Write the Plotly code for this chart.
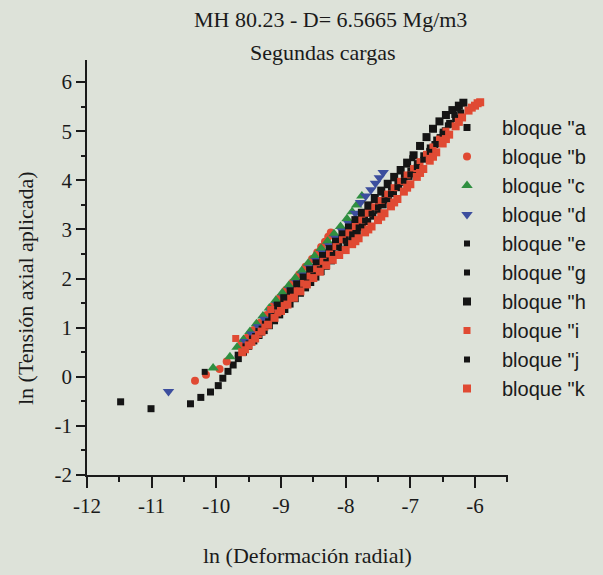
import plotly.graph_objects as go

# ---------------- data ----------------
x_a = [-11.48, -11.01, -10.40, -10.24, -10.09, -9.97, -9.90, -9.82, -9.74, -9.66, -9.58, -9.50, -9.42, -9.34, -9.26, -9.18, -9.10, -9.02, -8.94, -8.86, -8.78, -8.70, -8.62, -8.54, -8.46, -8.38, -8.30, -8.22, -8.14, -8.06, -7.98, -7.90, -7.82, -7.74, -7.66, -7.58, -7.50, -7.42, -7.34, -7.26, -7.18, -7.10, -7.02, -6.94, -6.86, -6.78, -6.70, -6.62, -6.54, -6.46, -6.38, -6.30, -6.22]
y_a = [-0.51, -0.65, -0.55, -0.42, -0.31, -0.18, -0.03, 0.11, 0.24, 0.37, 0.50, 0.62, 0.73, 0.84, 0.94, 1.04, 1.14, 1.26, 1.37, 1.48, 1.59, 1.70, 1.81, 1.92, 2.03, 2.14, 2.25, 2.36, 2.48, 2.59, 2.70, 2.82, 2.93, 3.05, 3.16, 3.27, 3.39, 3.50, 3.62, 3.73, 3.85, 3.96, 4.08, 4.20, 4.33, 4.46, 4.59, 4.73, 4.87, 5.01, 5.14, 5.26, 5.37]

x_b = [-10.33, -10.16, -9.95, -9.84, -9.62, -9.52, -9.42, -9.32, -9.22, -9.12, -9.02, -8.92, -8.82, -8.72, -8.62, -8.52, -8.44, -8.38, -8.32, -8.27, -8.23]
y_b = [-0.08, 0.04, 0.16, 0.31, 0.65, 0.80, 0.95, 1.10, 1.26, 1.44, 1.61, 1.77, 1.92, 2.08, 2.24, 2.40, 2.53, 2.64, 2.75, 2.85, 2.94]

x_c = [-10.05, -9.79, -9.68, -9.58, -9.48, -9.38, -9.28, -9.18, -9.08, -8.98, -8.88, -8.78, -8.68, -8.58, -8.48, -8.38, -8.28, -8.18, -8.08, -7.98, -7.90, -7.83, -7.75]
y_c = [0.18, 0.41, 0.60, 0.76, 0.92, 1.08, 1.24, 1.40, 1.56, 1.71, 1.86, 2.01, 2.16, 2.31, 2.46, 2.61, 2.76, 2.91, 3.06, 3.22, 3.36, 3.50, 3.68]

x_d = [-10.74, -9.55, -9.45, -9.35, -9.25, -9.15, -9.05, -8.95, -8.85, -8.75, -8.65, -8.55, -8.45, -8.35, -8.25, -8.15, -8.05, -7.95, -7.85, -7.77, -7.69, -7.61, -7.54, -7.48, -7.42]
y_d = [-0.30, 0.72, 0.87, 1.02, 1.17, 1.32, 1.47, 1.62, 1.77, 1.92, 2.07, 2.22, 2.37, 2.52, 2.67, 2.82, 2.97, 3.12, 3.33, 3.55, 3.68, 3.81, 3.94, 4.05, 4.16]

x_e = [-10.18, -9.67, -9.55, -9.45, -9.35, -9.25, -9.15, -9.05, -8.95, -8.85, -8.75, -8.65, -8.55, -8.45, -8.35, -8.25, -8.15, -8.05, -7.95, -7.85, -7.75, -7.65, -7.55, -7.45, -7.35, -7.25, -7.15, -7.05, -6.97]
y_e = [0.10, 0.45, 0.62, 0.78, 0.93, 1.08, 1.23, 1.38, 1.53, 1.67, 1.82, 1.96, 2.11, 2.25, 2.40, 2.55, 2.70, 2.85, 3.00, 3.15, 3.30, 3.45, 3.60, 3.75, 3.90, 4.04, 4.18, 4.32, 4.45]

x_g = [-9.50, -9.40, -9.30, -9.20, -9.10, -9.00, -8.90, -8.80, -8.70, -8.60, -8.50, -8.40, -8.30, -8.20, -8.10, -8.00, -7.90, -7.80, -7.70, -7.60, -7.50, -7.40, -7.30, -7.20, -7.10, -7.00, -6.90, -6.80, -6.70, -6.60, -6.50, -6.42]
y_g = [0.68, 0.83, 0.98, 1.13, 1.28, 1.42, 1.56, 1.71, 1.85, 1.99, 2.13, 2.27, 2.42, 2.56, 2.71, 2.85, 2.98, 3.12, 3.26, 3.40, 3.54, 3.67, 3.81, 3.94, 4.07, 4.20, 4.35, 4.51, 4.67, 4.83, 4.99, 5.12]

x_h = [-9.05, -8.95, -8.85, -8.75, -8.65, -8.55, -8.45, -8.35, -8.25, -8.15, -8.05, -7.95, -7.85, -7.75, -7.65, -7.55, -7.45, -7.35, -7.25, -7.15, -7.05, -6.95, -6.85, -6.75, -6.65, -6.55, -6.45, -6.35, -6.25, -6.18]
y_h = [1.45, 1.60, 1.74, 1.88, 2.02, 2.17, 2.31, 2.46, 2.60, 2.75, 2.90, 3.04, 3.19, 3.34, 3.49, 3.64, 3.79, 3.93, 4.07, 4.21, 4.36, 4.51, 4.70, 4.88, 5.05, 5.20, 5.33, 5.43, 5.52, 5.58]

x_i = [-9.70, -9.16, -9.55, -9.45, -9.35, -9.25, -9.05, -8.95, -8.85, -8.75, -8.65, -8.55, -8.45, -8.35, -8.25, -8.15, -8.05, -7.95, -7.85, -7.75, -7.65, -7.55, -7.45, -7.35, -7.25, -7.15, -7.05, -6.95, -6.85, -6.75, -6.65, -6.55, -6.45]
y_i = [0.78, 1.37, 0.55, 0.70, 0.86, 1.01, 1.30, 1.45, 1.60, 1.75, 1.90, 2.05, 2.20, 2.35, 2.50, 2.65, 2.79, 2.93, 3.06, 3.19, 3.33, 3.46, 3.59, 3.72, 3.85, 3.98, 4.11, 4.24, 4.38, 4.53, 4.68, 4.84, 5.00]

x_j = [-9.30, -9.20, -9.10, -9.00, -8.90, -8.80, -8.70, -8.60, -8.50, -8.40, -8.30, -8.20, -8.10, -8.00, -7.90, -7.80, -7.70, -7.60, -7.50, -7.40, -7.30, -7.20, -7.10, -7.00, -6.90, -6.80, -6.70, -6.60, -6.50, -6.40, -6.32, -6.26]
y_j = [0.90, 1.04, 1.19, 1.34, 1.48, 1.62, 1.77, 1.91, 2.05, 2.19, 2.34, 2.48, 2.63, 2.77, 2.90, 3.04, 3.18, 3.32, 3.45, 3.59, 3.72, 3.86, 3.99, 4.12, 4.27, 4.42, 4.58, 4.74, 4.95, 5.17, 5.33, 5.46]

x_k = [-9.60, -9.50, -9.40, -9.30, -9.20, -9.10, -9.00, -8.90, -8.80, -8.70, -8.60, -8.50, -8.40, -8.30, -8.20, -8.10, -8.00, -7.90, -7.80, -7.70, -7.60, -7.50, -7.40, -7.30, -7.20, -7.10, -7.00, -6.90, -6.80, -6.70, -6.60, -6.50, -6.40, -6.30, -6.20, -6.10, -6.00, -5.92,
       -7.85, -7.65, -7.45, -7.25, -7.05, -6.85, -6.65, -6.45, -6.25, -6.05, -5.96]
y_k = [0.50, 0.64, 0.78, 0.92, 1.06, 1.20, 1.34, 1.47, 1.61, 1.74, 1.88, 2.01, 2.14, 2.27, 2.38, 2.48, 2.58, 2.70, 2.82, 2.94, 3.06, 3.19, 3.33, 3.47, 3.62, 3.77, 3.92, 4.07, 4.23, 4.40, 4.57, 4.75, 4.93, 5.10, 5.28, 5.42, 5.52, 5.59,
       2.76, 3.00, 3.26, 3.55, 3.85, 4.15, 4.48, 4.84, 5.19, 5.48, 5.57]

series_names = ['bloque "a', 'bloque "b', 'bloque "c', 'bloque "d', 'bloque "e',
                'bloque "g', 'bloque "h', 'bloque "i', 'bloque "j', 'bloque "k']

x_tick_vals = [-12, -11, -10, -9, -8, -7, -6]
x_tick_text = ["-12", "-11", "-10", "-9", "-8", "-7", "-6"]
y_tick_vals = [-2, -1, 0, 1, 2, 3, 4, 5, 6]
y_tick_text = ["-2", "-1", "0", "1", "2", "3", "4", "5", "6"]

title_line1 = "MH 80.23 - D= 6.5665 Mg/m3"
title_line2 = "Segundas cargas"
x_title = "ln (Deformación radial)"
y_title = "ln (Tensión axial aplicada)"

# ---------------- styling ----------------
BLACK = "#151515"
RED = "#e04a33"
GREEN = "#2f8f40"
BLUE = "#3c4e9e"
BG = "#dde2d9"
INK = "#1a1a1a"

series = [
    (x_a, y_a, "square", 7, BLACK),
    (x_b, y_b, "circle", 8, RED),
    (x_c, y_c, "triangle-up", 10, GREEN),
    (x_d, y_d, "triangle-down", 10, BLUE),
    (x_e, y_e, "square", 6, BLACK),
    (x_g, y_g, "square", 6, BLACK),
    (x_h, y_h, "square", 8, BLACK),
    (x_i, y_i, "square", 7, RED),
    (x_j, y_j, "square", 6, BLACK),
    (x_k, y_k, "square", 8, RED),
]

fig = go.Figure()
for name, (xs, ys, sym, sz, col) in zip(series_names, series):
    fig.add_trace(go.Scatter(
        x=xs, y=ys, mode="markers", name=name,
        marker=dict(symbol=sym, size=sz, color=col, line=dict(width=0)),
    ))

W, H = 603, 575
ML, MR, MT, MB = 87, 95, 60, 100
pw = W - ML - MR
ph = H - MT - MB

def px_to_paper_x(px):
    return (px - ML) / pw

def px_to_paper_y(py):
    return (H - MB - py) / ph

serif = "Liberation Serif"
sans = "Liberation Sans"

axis_common = dict(
    showline=True, linecolor=INK, linewidth=1.5, mirror=False,
    showgrid=False, zeroline=False, ticks="outside", tickcolor=INK,
    tickwidth=1.5, tickfont=dict(family=serif, size=21, color=INK),
    tickmode="array",
)

fig.update_layout(
    width=W, height=H,
    margin=dict(l=ML, r=MR, t=MT, b=MB, autoexpand=False),
    paper_bgcolor=BG, plot_bgcolor=BG,
    showlegend=True,
    legend=dict(
        xref="container", yref="container",
        x=432 / W, y=1 - 108 / H, xanchor="left", yanchor="top",
        bgcolor="rgba(0,0,0,0)", borderwidth=0,
        font=dict(family=sans, size=20, color=INK),
        itemwidth=60, maxheight=520,
    ),
    xaxis=dict(range=[-12, -5.49], tickvals=x_tick_vals, ticktext=x_tick_text, ticklen=11,
               minor=dict(tickmode="linear", tick0=-12, dtick=0.5, ticklen=5, ticks="outside",
                          tickcolor=INK, tickwidth=1.5),
               **axis_common),
    yaxis=dict(range=[-2, 6.45], tickvals=y_tick_vals, ticktext=y_tick_text, ticklen=9,
               minor=dict(tickmode="linear", tick0=-2, dtick=0.5, ticklen=4, ticks="outside",
                          tickcolor=INK, tickwidth=1.5),
               **axis_common),
    annotations=[
        dict(text=title_line1, xref="paper", yref="paper",
             x=px_to_paper_x(330), y=px_to_paper_y(20), xanchor="center", yanchor="middle",
             showarrow=False, font=dict(family=serif, size=22, color=INK)),
        dict(text=title_line2, xref="paper", yref="paper",
             x=px_to_paper_x(323), y=px_to_paper_y(53), xanchor="center", yanchor="middle",
             showarrow=False, font=dict(family=serif, size=22, color=INK)),
        dict(text=x_title, xref="paper", yref="paper",
             x=px_to_paper_x(307), y=px_to_paper_y(555), xanchor="center", yanchor="middle",
             showarrow=False, font=dict(family=serif, size=22, color=INK)),
        dict(text=y_title, xref="paper", yref="paper", textangle=-90,
             x=px_to_paper_x(25), y=px_to_paper_y(288), xanchor="center", yanchor="middle",
             showarrow=False, font=dict(family=serif, size=22, color=INK)),
    ],
)

fig.write_html("out.html", config={"displayModeBar": False},
               post_script="document.body.style.margin='0';document.body.style.overflow='hidden';")
